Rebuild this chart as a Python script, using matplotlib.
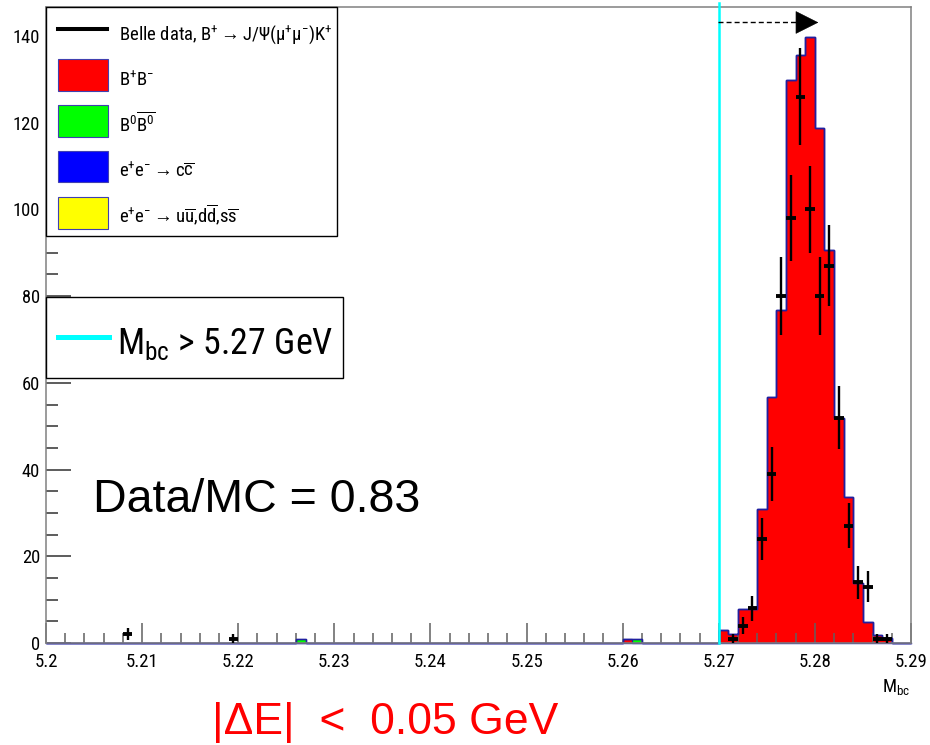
import numpy as np
import matplotlib
matplotlib.use("Agg")
import matplotlib.pyplot as plt
from matplotlib import font_manager
from matplotlib.patches import Rectangle
from matplotlib.lines import Line2D

# ---------------- data ----------------
X_MIN, X_MAX, N_BINS = 5.20, 5.29, 90

# MC B+B- (red): lower bin edges and heights
bpbm_lo = [5.260, 5.270, 5.271, 5.272, 5.273, 5.274, 5.275, 5.276, 5.277, 5.278,
           5.279, 5.280, 5.281, 5.282, 5.283, 5.284, 5.285, 5.286, 5.287]
bpbm_val = [0.9, 3.1, 2.0, 7.9, 7.9, 30.8, 56.7, 76.7, 129.8, 135.7,
            139.7, 118.8, 90.7, 51.8, 33.7, 13.9, 4.8, 1.9, 1.2]
# MC B0 B0bar (green)
b0b0_lo = [5.226, 5.261]
b0b0_val = [0.9, 0.9]
# MC e+e- -> c cbar (blue), e+e- -> u ubar, d dbar, s sbar (yellow)
ccbar_lo, ccbar_val = [], []
uds_lo, uds_val = [], []

# Belle data
data_lo = [5.208, 5.219, 5.271, 5.272, 5.273, 5.274, 5.275, 5.276, 5.277, 5.278,
           5.279, 5.280, 5.281, 5.282, 5.283, 5.284, 5.285, 5.286, 5.287]
data_cnt = [2, 1, 1, 4, 8, 24, 39, 80, 98, 126,
            100, 80, 87, 52, 27, 14, 13, 1, 1]

x_ticks = [5.20, 5.21, 5.22, 5.23, 5.24, 5.25, 5.26, 5.27, 5.28, 5.29]
x_ticklabels = ["5.2", "5.21", "5.22", "5.23", "5.24", "5.25", "5.26", "5.27", "5.28", "5.29"]
y_ticks = [0, 20, 40, 60, 80, 100, 120, 140]
y_ticklabels = [str(v) for v in y_ticks]
Y_MAX = 146.6
MBC_CUT = 5.27

# ---------------- fonts ----------------
COND_VALS = {"condensed", "semi-condensed", "extra-condensed", "ultra-condensed"}
prefs = ["Liberation Sans Narrow", "Roboto Condensed", "Open Sans Condensed",
         "Noto Sans", "Roboto", "Open Sans", "DejaVu Sans", "Lato", "Inter"]
cands = []
for f in font_manager.fontManager.ttflist:
    st = f.stretch
    is_cond = (str(st) in COND_VALS or (isinstance(st, (int, float)) and st < 500)
               or "Narrow" in f.name or "Condensed" in f.name)
    if is_cond and f.style == "normal" and f.weight in (400, "normal", "regular", "book"):
        cands.append(f)
chosen = None
for p in prefs:
    for f in cands:
        if f.name == p:
            chosen = f
            break
    if chosen:
        break
if chosen is None and cands:
    chosen = cands[0]
if chosen is not None:
    RFAM, RSTRETCH = chosen.name, chosen.stretch
else:
    RFAM, RSTRETCH = "Liberation Sans", "normal"

plt.rcParams["font.family"] = [RFAM, "Liberation Sans", "DejaVu Sans"]
plt.rcParams["font.stretch"] = RSTRETCH
plt.rcParams["mathtext.fontset"] = "custom"
plt.rcParams["mathtext.rm"] = f"{RFAM}:stretch={RSTRETCH}"
plt.rcParams["mathtext.it"] = f"{RFAM}:italic:stretch={RSTRETCH}"
plt.rcParams["mathtext.bf"] = f"{RFAM}:bold:stretch={RSTRETCH}"
plt.rcParams["mathtext.sf"] = "Liberation Sans:stretch=normal"

W, H = 930, 745
fig = plt.figure(figsize=(W / 100, H / 100), dpi=100)
fig.patch.set_facecolor("white")
ax = fig.add_axes([46 / W, 1 - 643 / H, (911 - 46) / W, (643 - 7.3) / H])
renderer = fig.canvas.get_renderer()


def fitted_size(text, fs_max, target_w):
    t = fig.text(0, 0, text, fontsize=fs_max)
    w = t.get_window_extent(renderer).width
    t.remove()
    return min(fs_max, fs_max * target_w / w)


def fit(t, fs_max, target_w):
    t.set_fontsize(fs_max)
    w = t.get_window_extent(renderer).width
    t.set_fontsize(min(fs_max, fs_max * target_w / w))
    return t


edges = np.linspace(X_MIN, X_MAX, N_BINS + 1)
bw = (X_MAX - X_MIN) / N_BINS


def to_hist(lo, vals):
    h = np.zeros(N_BINS)
    if len(lo):
        idx = np.round((np.array(lo) - X_MIN) / bw).astype(int)
        h[idx] = vals
    return h


NAVY = "#2020a0"
layers = [(to_hist(bpbm_lo, bpbm_val), "#ff0000"),
          (to_hist(b0b0_lo, b0b0_val), "#00ff00"),
          (to_hist(ccbar_lo, ccbar_val), "#0000ff"),
          (to_hist(uds_lo, uds_val), "#ffff00")]
bottom = np.zeros(N_BINS)
for h, c in layers:
    top = bottom + h
    ax.stairs(top, edges, baseline=bottom, fill=True, color=c, lw=0, zorder=1)
    bottom = top
bottom = np.zeros(N_BINS)
for h, c in layers:
    top = bottom + h
    ax.stairs(top, edges, baseline=None, fill=False, color=NAVY, lw=0.9,
              zorder=2, clip_on=False)
    bottom = top
ax.axhline(0, color=NAVY, lw=1.0, zorder=2, clip_on=False)

# data points
cnt = np.array(data_cnt, dtype=float)
centers = np.array(data_lo) + bw / 2
ax.errorbar(centers, cnt, yerr=np.sqrt(cnt), fmt="none", ecolor="black",
            elinewidth=1.7, capsize=0, zorder=5)
ax.errorbar(centers, cnt, xerr=bw / 2, fmt="none", ecolor="black",
            elinewidth=2.8, capsize=0, zorder=5)

# cut line and arrow
ax.plot([MBC_CUT, MBC_CUT], [0, 147.6], color="#00ffff", lw=1.8, clip_on=False, zorder=6)
ARROW_Y, ARROW_X0, ARROW_XB, ARROW_XT = 143.1, 5.2699, 5.27811, 5.28036
ax.plot([ARROW_X0, ARROW_XB], [ARROW_Y, ARROW_Y], color="black", lw=1.0,
        ls=(0, (3.6, 2.2)), zorder=6)
ax.annotate("", xy=(ARROW_XT, ARROW_Y), xytext=(ARROW_XB, ARROW_Y),
            arrowprops=dict(arrowstyle="-|>,head_length=15.5,head_width=7.8",
                            mutation_scale=1, color="black", lw=0.5,
                            shrinkA=0, shrinkB=0), zorder=6)

# axes styling
x_fs = fitted_size("5.21", 15.5, 32.7)
y_fs = fitted_size("140", 17, 27.5)
ax.set_xlim(X_MIN, X_MAX)
ax.set_ylim(0, Y_MAX)
ax.set_xticks(x_ticks)
ax.set_xticklabels(x_ticklabels)
ax.set_xticks(np.arange(X_MIN, X_MAX + 1e-9, 0.002), minor=True)
ax.set_yticks(y_ticks)
ax.set_yticklabels(y_ticklabels)
ax.set_yticks(np.arange(0, Y_MAX, 5), minor=True)
ax.tick_params(axis="x", which="major", direction="in", length=14.4, width=1.1,
               color="#606060", labelsize=x_fs, pad=7)
ax.tick_params(axis="x", which="minor", direction="in", length=7.2, width=1.1,
               color="#606060")
ax.tick_params(axis="y", which="major", direction="in", length=18, width=1.1,
               color="#303030", labelsize=y_fs, pad=4.3)
ax.tick_params(axis="y", which="minor", direction="in", length=8.6, width=1.1,
               color="#303030")
for s in ax.spines.values():
    s.set_color("#808080")
    s.set_linewidth(1.1)

# x axis title
fit(fig.text(910 / W, 1 - 691.7 / H, r"M$_{\mathrm{bc}}$", ha="right",
             va="baseline"), 15.5, 28)


# ---------------- legends (figure pixel coordinates) ----------------
def fx(px):
    return px / W


def fy(py):
    return 1 - py / H


ARROW = r"$\mathsf{\rightarrow}$"
fig.add_artist(Rectangle((fx(46), fy(236)), (337 - 46) / W, (236 - 7) / H,
                         transform=fig.transFigure, facecolor="white",
                         edgecolor="black", lw=1.0, zorder=10))
fig.add_artist(Line2D([fx(58), fx(107)], [fy(29.3), fy(29.3)],
                      transform=fig.transFigure, color="black", lw=2.9, zorder=11))
leg_boxes = [(59, 91, "#ff0000"), (105, 137, "#00ff00"), (151, 182, "#0000ff"),
             (197, 229, "#ffff00")]
for y0, y1, c in leg_boxes:
    fig.add_artist(Rectangle((fx(58), fy(y1)), (108 - 58) / W, (y1 - y0) / H,
                             transform=fig.transFigure, facecolor=c,
                             edgecolor="#4040b0", lw=0.8, zorder=11))
leg_labels = [
    (39.3, r"Belle data, B$^{+}$" + ARROW + r"J/Ψ(μ$^{+}$μ$^{-}$)K$^{+}$"),
    (86.0, r"B$^{+}$B$^{-}$"),
    (131.7, r"B$^{0}\overline{\mathrm{B}^{0}}$"),
    (176.7, r"e$^{+}$e$^{-}$" + ARROW + r"c$\overline{\mathrm{c}}$"),
    (222.7, r"e$^{+}$e$^{-}$" + ARROW +
     r"u$\overline{\mathrm{u}}$,d$\overline{\mathrm{d}}$,s$\overline{\mathrm{s}}$"),
]
leg_fs = fitted_size(leg_labels[0][1], 16, 214)
for yb, t in leg_labels:
    fig.text(fx(119), fy(yb), t, fontsize=leg_fs, ha="left", va="baseline", zorder=12)

fig.add_artist(Rectangle((fx(46), fy(378.3)), (343 - 46) / W, (378.3 - 297) / H,
                         transform=fig.transFigure, facecolor="white",
                         edgecolor="black", lw=1.0, zorder=10))
fig.add_artist(Line2D([fx(58), fx(109)], [fy(337.3), fy(337.3)],
                      transform=fig.transFigure, color="#00ffff", lw=3.6, zorder=11))
fit(fig.text(fx(117), fy(354), r"M$_{\mathrm{bc}}$ > 5.27 GeV",
             ha="left", va="baseline", zorder=12), 31, 216)

# annotations (added text)
fig.text(fx(93), fy(511.7), "Data/MC = 0.83", fontsize=33.5, family="Liberation Sans",
         fontstretch="normal", ha="left", va="baseline", color="black")
fig.text(fx(212), fy(734), "|ΔE|  <  0.05 GeV", fontsize=32, family="Liberation Sans",
         fontstretch="normal", ha="left", va="baseline", color="#ff0000")

fig.savefig("out.png", dpi=100)
